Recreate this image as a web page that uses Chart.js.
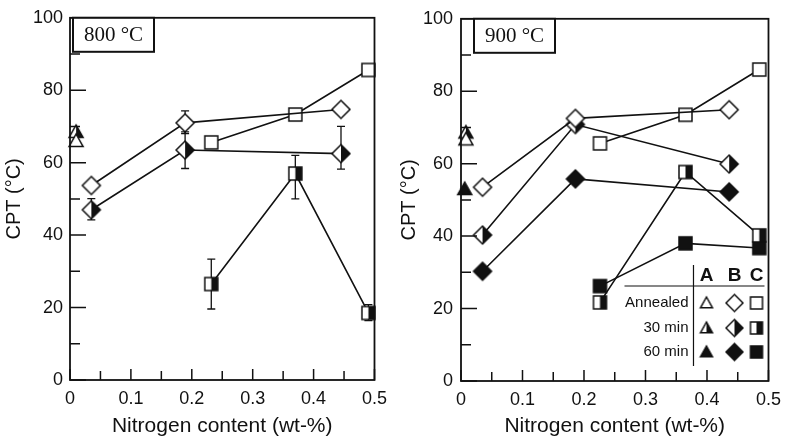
<!DOCTYPE html>
<html>
<head>
<meta charset="utf-8">
<script src="https://cdn.jsdelivr.net/npm/chart.js@4.4.1/dist/chart.umd.min.js"></script>
<style>
  body { margin: 0; background: #fff; }
  .panel { position: absolute; top: 0; }
</style>
</head>
<body>
<div class="panel" style="left:0"><canvas id="left" width="395" height="439"></canvas></div>
<div class="panel" style="left:395px"><canvas id="right" width="394" height="439"></canvas></div>
<script>
// ---- data: 800 °C panel ----
const n800_A = [0.01];
const cpt800_Aann = [66];
const cpt800_A30 = [68.5];
const n800_B = [0.035, 0.189, 0.445];
const cpt800_Bann = [53.7, 71, 74.7];
const cpt800_B30 = [47, 63.5, 62.5];
const err800_Bann = [null, [68, 74.3], null];
const err800_B30 = [[44.2, 50.1], [58.4, 68.5], [58.2, 70]];
const n800_C = [0.232, 0.37, 0.49];
const cpt800_Cann = [65.6, 73.3, 85.6];
const cpt800_C30 = [26.5, 57, 18.5];
const err800_C30 = [[19.6, 33.4], [50, 62], [16.4, 20.8]];

// ---- data: 900 °C panel ----
const n900_A = [0.008];
const cpt900_Aann = [66.7];
const cpt900_A30 = [68.6];
const n900_A60 = [0.006];
const cpt900_A60 = [53];
const n900_B = [0.035, 0.186, 0.436];
const cpt900_Bann = [53.5, 72.5, 74.9];
const cpt900_B30 = [40.3, 70.8, 59.9];
const cpt900_B60 = [30.3, 55.8, 52.2];
const n900_C = [0.226, 0.365, 0.485];
const cpt900_Cann = [65.6, 73.5, 86];
const cpt900_C30 = [21.7, 57.7, 40.2];
const cpt900_C60 = [26.2, 38, 36.7];

// ---- axes ----
const yMajor = [0, 20, 40, 60, 80, 100];
const yMinor = [10, 30, 50, 70, 90];
const xMajor = [0, 0.1, 0.2, 0.3, 0.4, 0.5];
const xMinor = [0.05, 0.15, 0.25, 0.35, 0.45];
const xTickLabels = ['0', '0.1', '0.2', '0.3', '0.4', '0.5'];
const legendRows = ['Annealed', '30 min', '60 min'];
const legendCols = ['A', 'B', 'C'];

const INK = '#111';
const SANS = '"Liberation Sans", Arial, sans-serif';

function makeMarker(shape, fill, w) {
    const c = document.createElement('canvas');
    c.width = w + 4;
    c.height = w + 4;
    const g = c.getContext('2d');
    const cx = c.width / 2, cy = c.height / 2, r = w / 2;
    g.beginPath();
    if (shape === 'tri') {
        g.moveTo(cx, cy - r);
        g.lineTo(cx + r, cy + r * 0.8);
        g.lineTo(cx - r, cy + r * 0.8);
    } else if (shape === 'dia') {
        g.moveTo(cx, cy - r);
        g.lineTo(cx + r, cy);
        g.lineTo(cx, cy + r);
        g.lineTo(cx - r, cy);
    } else {
        g.rect(cx - r, cy - r, w, w);
    }
    g.closePath();
    g.fillStyle = fill === 'full' ? INK : '#fff';
    g.fill();
    if (fill === 'half') {
        g.save();
        g.clip();
        g.fillStyle = INK;
        g.fillRect(cx, 0, c.width, c.height);
        g.restore();
    }
    g.lineWidth = 1.5;
    g.strokeStyle = INK;
    g.stroke();
    return c;
}

const markers = {
    A: { ann: makeMarker('tri', 'open', 14), m30: makeMarker('tri', 'half', 14), m60: makeMarker('tri', 'full', 14) },
    B: { ann: makeMarker('dia', 'open', 18), m30: makeMarker('dia', 'half', 18), m60: makeMarker('dia', 'full', 18) },
    C: { ann: makeMarker('sq', 'open', 13), m30: makeMarker('sq', 'half', 13), m60: makeMarker('sq', 'full', 13) }
};
const legendMarkers = {
    A: [makeMarker('tri', 'open', 12), makeMarker('tri', 'half', 12), makeMarker('tri', 'full', 12)],
    B: [makeMarker('dia', 'open', 17), makeMarker('dia', 'half', 17), makeMarker('dia', 'full', 17)],
    C: [makeMarker('sq', 'open', 12), makeMarker('sq', 'half', 12), makeMarker('sq', 'full', 12)]
};

function pts(xs, ys) {
    return xs.map((x, i) => ({ x: x, y: ys[i] }));
}

function series(xs, ys, marker, line, errs) {
    return {
        data: pts(xs, ys),
        showLine: line,
        borderColor: INK,
        borderWidth: 1.6,
        pointStyle: marker,
        pointRadius: 8,
        pointHoverRadius: 8,
        clip: false,
        errs: errs || null
    };
}

// error bars under the markers, inward ticks, frame, label box, legend
const panelPlugin = {
    id: 'panel',
    beforeDatasetsDraw(chart) {
        const ctx = chart.ctx, xs = chart.scales.x, ys = chart.scales.y;
        ctx.save();
        ctx.strokeStyle = INK;
        ctx.lineWidth = 1.3;
        chart.data.datasets.forEach(ds => {
            if (!ds.errs) return;
            ds.errs.forEach((e, i) => {
                if (!e) return;
                const px = xs.getPixelForValue(ds.data[i].x);
                const lo = ys.getPixelForValue(e[0]), hi = ys.getPixelForValue(e[1]);
                ctx.beginPath();
                ctx.moveTo(px, lo); ctx.lineTo(px, hi);
                ctx.moveTo(px - 4, lo); ctx.lineTo(px + 4, lo);
                ctx.moveTo(px - 4, hi); ctx.lineTo(px + 4, hi);
                ctx.stroke();
            });
        });
        ctx.restore();
    },
    afterDraw(chart, args, opts) {
        const ctx = chart.ctx, a = chart.chartArea;
        const xs = chart.scales.x, ys = chart.scales.y;
        ctx.save();
        ctx.strokeStyle = INK;
        ctx.lineWidth = 1.8;
        ctx.strokeRect(a.left, a.top, a.right - a.left, a.bottom - a.top);
        ctx.lineWidth = 1.5;
        ctx.beginPath();
        yMajor.forEach(v => { const p = ys.getPixelForValue(v); ctx.moveTo(a.left, p); ctx.lineTo(a.left + 16, p); });
        yMinor.forEach(v => { const p = ys.getPixelForValue(v); ctx.moveTo(a.left, p); ctx.lineTo(a.left + 10, p); });
        xMajor.forEach(v => { const p = xs.getPixelForValue(v); ctx.moveTo(p, a.bottom); ctx.lineTo(p, a.bottom - 11); });
        xMinor.forEach(v => { const p = xs.getPixelForValue(v); ctx.moveTo(p, a.bottom); ctx.lineTo(p, a.bottom - 9); });
        ctx.stroke();

        // temperature box
        ctx.fillStyle = '#fff';
        ctx.fillRect(a.left + opts.boxX, a.top, 81, 34);
        ctx.lineWidth = 2;
        ctx.strokeRect(a.left + opts.boxX, a.top, 81, 34);
        ctx.fillStyle = INK;
        ctx.font = '21px "Liberation Serif", "Times New Roman", serif';
        ctx.textAlign = 'center';
        ctx.textBaseline = 'middle';
        ctx.fillText(opts.label, a.left + opts.boxX + 40.5, a.top + 18);

        if (opts.legend) {
            const R = a.right;
            ctx.lineWidth = 1.2;
            ctx.beginPath();
            ctx.moveTo(R - 75, 265); ctx.lineTo(R - 75, 366);
            ctx.moveTo(R - 144, 286); ctx.lineTo(R - 4, 286);
            ctx.stroke();
            const colX = [R - 62, R - 34, R - 12];
            const rowY = [303, 328, 352];
            ctx.font = 'bold 19px ' + SANS;
            legendCols.forEach((c, i) => ctx.fillText(c, colX[i], 276));
            ctx.font = '15px ' + SANS;
            ctx.textAlign = 'right';
            legendRows.forEach((r, j) => ctx.fillText(r, R - 80, rowY[j]));
            legendCols.forEach((c, i) => {
                legendMarkers[c].forEach((m, j) => {
                    ctx.drawImage(m, colX[i] - m.width / 2, rowY[j] - m.height / 2);
                });
            });
        }
        ctx.restore();
    }
};

function makeOptions(axisW, axisH, padRight, tickPad, panelOpts) {
    return {
        responsive: false,
        animation: false,
        layout: { padding: { top: 15, right: padRight, left: 0, bottom: 0 } },
        plugins: { legend: { display: false }, tooltip: { enabled: false }, panel: panelOpts },
        scales: {
            x: {
                type: 'linear', min: 0, max: 0.5,
                afterFit: s => { s.height = axisH; },
                grid: { display: false, drawTicks: false },
                border: { display: false },
                ticks: {
                    stepSize: 0.1, padding: 8, color: INK,
                    font: { family: SANS, size: 18 },
                    callback: (v, i) => xTickLabels[i]
                },
                title: {
                    display: true, text: 'Nitrogen content (wt-%)', color: INK,
                    font: { family: SANS, size: 21 }, padding: 0
                }
            },
            y: {
                min: 0, max: 100,
                afterFit: s => { s.width = axisW; },
                grid: { display: false, drawTicks: false },
                border: { display: false },
                ticks: { stepSize: 20, padding: tickPad, color: INK, font: { family: SANS, size: 18 } },
                title: {
                    display: true, text: 'CPT (°C)', color: INK,
                    font: { family: SANS, size: 20 }, padding: { top: 2, bottom: 0 }
                }
            }
        }
    };
}

new Chart(document.getElementById('left'), {
    type: 'scatter',
    data: {
        datasets: [
            series(n800_A, cpt800_Aann, markers.A.ann, false),
            series(n800_A, cpt800_A30, markers.A.m30, false),
            series(n800_B, cpt800_Bann, markers.B.ann, true, err800_Bann),
            series(n800_B, cpt800_B30, markers.B.m30, true, err800_B30),
            series(n800_C, cpt800_Cann, markers.C.ann, true),
            series(n800_C, cpt800_C30, markers.C.m30, true, err800_C30)
        ]
    },
    options: makeOptions(70, 59, 12, 7, { label: '800 °C', boxX: 3, legend: false }),
    plugins: [panelPlugin]
});

new Chart(document.getElementById('right'), {
    type: 'scatter',
    data: {
        datasets: [
            series(n900_A, cpt900_Aann, markers.A.ann, false),
            series(n900_A, cpt900_A30, markers.A.m30, false),
            series(n900_A60, cpt900_A60, markers.A.m60, false),
            series(n900_B, cpt900_Bann, markers.B.ann, true),
            series(n900_B, cpt900_B30, markers.B.m30, true),
            series(n900_B, cpt900_B60, markers.B.m60, true),
            series(n900_C, cpt900_Cann, markers.C.ann, true),
            series(n900_C, cpt900_C30, markers.C.m30, true),
            series(n900_C, cpt900_C60, markers.C.m60, true)
        ]
    },
    options: makeOptions(66, 58, 17, 8, { label: '900 °C', boxX: 13, legend: true }),
    plugins: [panelPlugin]
});
</script>
</body>
</html>
